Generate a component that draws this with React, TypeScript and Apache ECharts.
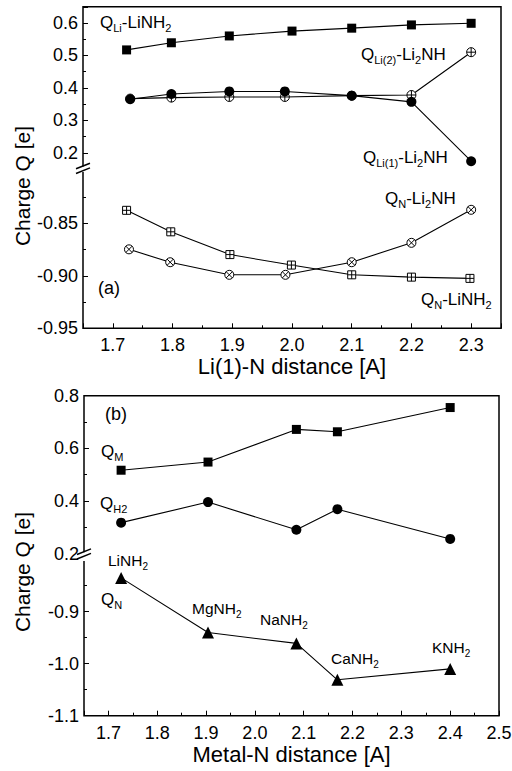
import React, { useEffect, useRef } from "react";
import * as echarts from "echarts";

// ---------- Panel (a): Li(1)-N distance ----------
const xQLi_LiNH2 = [1.723, 1.798, 1.895, 2.0, 2.1, 2.2, 2.3];
const qLi_LiNH2 = [0.517, 0.539, 0.56, 0.575, 0.584, 0.594, 0.599];
const xQLi_Li2NH = [1.729, 1.798, 1.895, 1.988, 2.1, 2.2, 2.3];
const qLi2_Li2NH = [0.367, 0.37, 0.372, 0.372, 0.376, 0.378, 0.51];
const qLi1_Li2NH = [0.365, 0.381, 0.389, 0.389, 0.376, 0.357, 0.174];
const xQN_Li2NH = [1.727, 1.796, 1.895, 1.989, 2.1, 2.2, 2.3];
const qN_Li2NH = [-0.8747, -0.887, -0.899, -0.899, -0.887, -0.8685, -0.837];
const xQN_LiNH2 = [1.723, 1.797, 1.896, 1.999, 2.1, 2.2, 2.298];
const qN_LiNH2 = [-0.8375, -0.858, -0.8797, -0.8897, -0.899, -0.9012, -0.9024];

// ---------- Panel (b): Metal-N distance ----------
const compounds = ["LiNH2", "MgNH2", "NaNH2", "CaNH2", "KNH2"];
const xMetalN = [1.726, 1.904, 2.085, 2.169, 2.4];
const qM = [0.517, 0.548, 0.672, 0.663, 0.755];
const qH2 = [0.318, 0.396, 0.291, 0.369, 0.256];
const qN = [-0.835, -0.94, -0.961, -1.031, -1.01];

const FONT = '"Liberation Sans", Arial, Helvetica, sans-serif';

const SYM_CIRCLE_PLUS =
  "path://M10,0 A10,10 0 1,1 10,20 A10,10 0 1,1 10,0 Z M0,10 L20,10 M10,0 L10,20";
const SYM_CIRCLE_X =
  "path://M10,0 A10,10 0 1,1 10,20 A10,10 0 1,1 10,0 Z M2.93,2.93 L17.07,17.07 M17.07,2.93 L2.93,17.07";
const SYM_SQUARE_PLUS =
  "path://M0,0 L20,0 L20,20 L0,20 Z M0,10 L20,10 M10,0 L10,20";

const isMult = (v: number, step: number) =>
  Math.abs(v / step - Math.round(v / step)) < 1e-6;

function App() {
  const ref = useRef<HTMLDivElement>(null);

  useEffect(() => {
    const chart = echarts.init(ref.current!, undefined, { renderer: "svg" });

    const A = { left: 83, right: 501, top: 6.75, brk1: 169, brk2: 171, bottom: 328.3 };
    const B = { left: 84, right: 499, top: 395.7, brk1: 553.7, brk2: 559.7, bottom: 715.7 };

    const grids = [
      { left: A.left, width: A.right - A.left, top: A.top, height: A.brk1 - A.top },
      { left: A.left, width: A.right - A.left, top: A.brk2, height: A.bottom - A.brk2 },
      { left: B.left, width: B.right - B.left, top: B.top, height: B.brk1 - B.top },
      { left: B.left, width: B.right - B.left, top: B.brk2, height: B.bottom - B.brk2 },
    ].map((g) => ({ ...g, containLabel: false, outerBoundsMode: "none" }));

    const tickLine = { color: "#000", width: 1 };
    const labelStyle = { color: "#000", fontSize: 18, fontFamily: FONT };

    const hiddenX = (gi: number, min: number, max: number) => ({
      type: "value", gridIndex: gi, min, max, show: false,
    });
    const majorX = (gi: number, min: number, max: number, name: string, nameGap: number) => ({
      type: "value", gridIndex: gi, min, max, minInterval: 0.1, maxInterval: 0.1,
      position: "bottom",
      axisLine: { show: false },
      axisTick: { show: true, inside: true, length: 5, lineStyle: tickLine },
      axisLabel: {
        ...labelStyle, margin: 8,
        formatter: (v: number) => (isMult(v, 0.1) ? v.toFixed(1) : ""),
      },
      splitLine: { show: false },
      name, nameLocation: "middle", nameGap,
      nameTextStyle: { color: "#000", fontSize: 22, fontFamily: FONT },
    });
    const minorX = (gi: number, min: number, max: number) => ({
      type: "value", gridIndex: gi, min, max, interval: 0.05, position: "bottom",
      axisLine: { show: false },
      axisTick: { show: true, inside: true, length: 3, lineStyle: tickLine },
      axisLabel: { show: false },
      splitLine: { show: false },
    });

    const majorY = (gi: number, min: number, max: number, opts: any, fmt: (v: number) => string) => ({
      type: "value", gridIndex: gi, min, max, position: "left", ...opts,
      axisLine: { show: false },
      axisTick: { show: true, inside: true, length: 5, lineStyle: tickLine },
      axisLabel: { ...labelStyle, margin: 5, formatter: fmt },
      splitLine: { show: false },
    });
    const minorY = (gi: number, min: number, max: number, interval: number) => ({
      type: "value", gridIndex: gi, min, max, interval, position: "left",
      axisLine: { show: false },
      axisTick: { show: true, inside: true, length: 3, lineStyle: tickLine },
      axisLabel: { show: false },
      splitLine: { show: false },
    });

    const xAxis = [
      hiddenX(0, 1.65, 2.35),
      majorX(1, 1.65, 2.35, "Li(1)-N distance [A]", 25),
      minorX(1, 1.65, 2.35),
      hiddenX(2, 1.65, 2.5),
      majorX(3, 1.65, 2.5, "Metal-N distance [A]", 28),
      minorX(3, 1.65, 2.5),
    ];

    const yAxis = [
      majorY(0, 0.15, 0.65, { minInterval: 0.1, maxInterval: 0.1 }, (v) =>
        isMult(v, 0.1) ? v.toFixed(1) : ""),
      minorY(0, 0.15, 0.65, 0.05),
      majorY(1, -0.95, -0.8, { interval: 0.05 }, (v) => (v > -0.81 ? "" : v.toFixed(2))),
      minorY(1, -0.95, -0.8, 0.025),
      majorY(2, 0.2, 0.8, { interval: 0.2 }, (v) => v.toFixed(1)),
      minorY(2, 0.2, 0.8, 0.1),
      majorY(3, -1.1, -0.8, { interval: 0.1 }, (v) => (v > -0.81 ? "" : v.toFixed(1))),
      minorY(3, -1.1, -0.8, 0.05),
    ];

    const mk = (
      name: string, xs: number[], ys: number[], xi: number, yi: number,
      symbol: string, size: number, hollow: boolean
    ) => ({
      type: "line", name, xAxisIndex: xi, yAxisIndex: yi,
      data: xs.map((x, i) => [x, ys[i]]),
      symbol, symbolSize: size, showAllSymbol: true,
      lineStyle: { color: "#000", width: 1.1 },
      itemStyle: hollow
        ? { color: "#fff", borderColor: "#000", borderWidth: 1 }
        : { color: "#000", borderColor: "#000", borderWidth: 0 },
      emphasis: { disabled: true },
      silent: true,
      z: 3,
    });

    const series = [
      mk("QLi-LiNH2", xQLi_LiNH2, qLi_LiNH2, 0, 0, "rect", 9, false),
      mk("QLi(2)-Li2NH", xQLi_Li2NH, qLi2_Li2NH, 0, 0, SYM_CIRCLE_PLUS, 9, true),
      mk("QLi(1)-Li2NH", xQLi_Li2NH, qLi1_Li2NH, 0, 0, "circle", 10, false),
      mk("QN-Li2NH", xQN_Li2NH, qN_Li2NH, 1, 2, SYM_CIRCLE_X, 9, true),
      mk("QN-LiNH2", xQN_LiNH2, qN_LiNH2, 1, 2, SYM_SQUARE_PLUS, 8, true),
      mk("QM", xMetalN, qM, 3, 4, "rect", 9, false),
      mk("QH2", xMetalN, qH2, 3, 4, "circle", 10, false),
      mk("QN", xMetalN, qN, 4, 6, "triangle", 12, false),
    ];

    const ann = (text: string, x: number, y: number, fs = 17, sfs = 11) => ({
      type: "text", x, y, z: 120,
      style: {
        text, fill: "#000", fontSize: fs, fontFamily: FONT,
        align: "left", verticalAlign: "middle",
        rich: {
          s: { fontSize: sfs, fontFamily: FONT, fill: "#000", verticalAlign: "bottom", padding: [12, 0, 0, 0] },
        },
      },
    });
    const sub = (name: string) => name.replace(/(\d+)$/, "{s|$1}");

    const frame = (P: any) => ({
      type: "rect", z: 100,
      shape: { x: P.left, y: P.top, width: P.right - P.left, height: P.bottom - P.top },
      style: { fill: "none", stroke: "#000", lineWidth: 1.5 },
    });
    const brk = (x: number, yc1: number, yc2: number, coverTop: number, coverBot: number) => [
      { type: "rect", z: 110, shape: { x: x - 4, y: coverTop, width: 11, height: coverBot - coverTop }, style: { fill: "#fff", stroke: "none" } },
      { type: "line", z: 111, shape: { x1: x - 7, y1: yc1 + 2.8, x2: x + 7, y2: yc1 - 2.8 }, style: { stroke: "#000", lineWidth: 1.5 } },
      { type: "line", z: 111, shape: { x1: x - 7, y1: yc2 + 2.8, x2: x + 7, y2: yc2 - 2.8 }, style: { stroke: "#000", lineWidth: 1.5 } },
    ];

    const ytitle = (y: number) => ({
      type: "text", x: 22, y, rotation: Math.PI / 2, z: 120,
      style: {
        text: "Charge Q [e]", fill: "#000", fontSize: 21, fontFamily: FONT,
        align: "center", verticalAlign: "middle",
      },
    });

    const compoundPos = [
      [108, 560], [192, 608], [260, 619], [331, 658], [432, 647],
    ];

    const graphic = [
      frame(A), frame(B),
      ...brk(A.left, 166, 170.7, 166.5, 172),
      ...brk(B.left, 551.7, 556.2, 552.2, 561),
      ytitle(186), ytitle(572),
      ann("Q{s|Li}-LiNH{s|2}", 100, 22),
      ann("Q{s|Li(2)}-Li{s|2}NH", 361, 54),
      ann("Q{s|Li(1)}-Li{s|2}NH", 363, 157),
      ann("Q{s|N}-Li{s|2}NH", 385, 198),
      ann("Q{s|N}-LiNH{s|2}", 421, 299),
      ann("(a)", 98, 288, 18),
      ann("(b)", 105, 414, 18),
      ann("Q{s|M}", 101, 451),
      ann("Q{s|H2}", 100, 503),
      ann("Q{s|N}", 101, 599),
      ...compounds.map((c, i) => ann(sub(c), compoundPos[i][0], compoundPos[i][1], 15.5, 10)),
    ];

    chart.setOption({
      animation: false,
      backgroundColor: "#fff",
      textStyle: { fontFamily: FONT },
      grid: grids,
      xAxis,
      yAxis,
      series,
      graphic,
    });

    return () => chart.dispose();
  }, []);

  return (
    <div
      ref={ref}
      style={{ position: "fixed", left: 0, top: 0, width: 512, height: 771, background: "#fff" }}
    />
  );
}

export default App;
